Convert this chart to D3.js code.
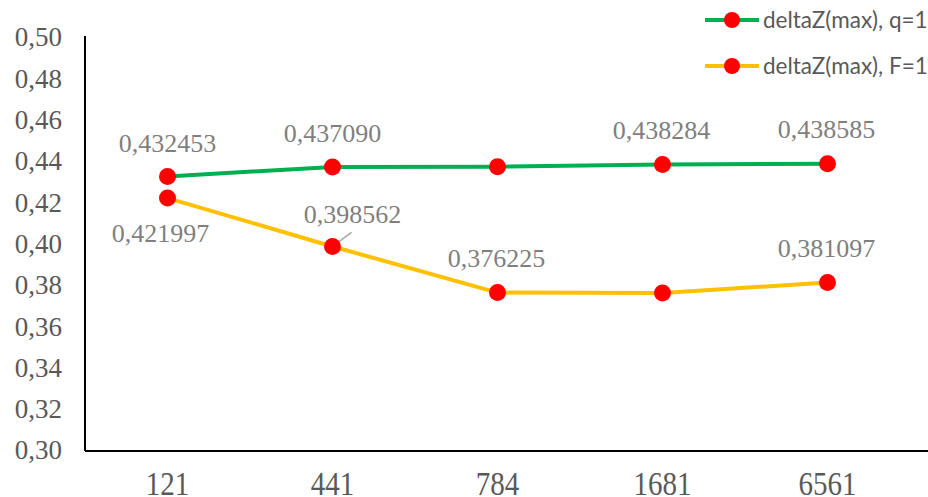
<!DOCTYPE html>
<html><head><meta charset="utf-8">
<script src="https://cdn.jsdelivr.net/npm/d3@7"></script>
<style>body{margin:0;background:#fff}svg{display:block}</style>
</head><body><svg id="c" width="928" height="497"></svg>
<script>
const categories = ["121","441","784","1681","6561"];
const seriesNames = ["deltaZ(max), q=1","deltaZ(max), F=1"];
const qValues = [0.432453, 0.437090, 0.437200, 0.438284, 0.438585];
const fValues = [0.421997, 0.398562, 0.376225, 0.376000, 0.381097];
const qLabels = ["0,432453","0,437090",null,"0,438284","0,438585"];
const fLabels = ["0,421997","0,398562","0,376225",null,"0,381097"];
const yTicks = [0.30,0.32,0.34,0.36,0.38,0.40,0.42,0.44,0.46,0.48,0.50];

// label layout offsets (dx, dy from the point)
const qLabelOffsets = [[0,-33],[0,-33],null,[-1,-34],[-1,-34]];
const fLabelOffsets = [[-7,35],[20,-32],[-1,-34],null,[-1,-34]];

const SERIF = '"Liberation Serif"';
const SANS = '"Lato"';

const svg = d3.select("#c");
const x = d3.scaleBand().domain(categories).range([85,910]);
const y = d3.scaleLinear().domain([0.30,0.50]).range([450,37]);
const cx = d => x(d) + x.bandwidth()/2;

// y axis
const yAxis = svg.append("g").attr("transform","translate(85,0)")
  .call(d3.axisLeft(y).tickValues(yTicks).tickSize(0).tickPadding(23)
    .tickFormat(d => d3.format(".2f")(d).replace(".",",")));
yAxis.attr("font-family",null).attr("font-size",null);
yAxis.select(".domain").attr("stroke","#000").attr("stroke-width",2).attr("d","M0,36V451");
yAxis.selectAll("text").style("font-family",SERIF).style("font-size","27px")
  .attr("fill","#595959").attr("dy","0.33em");

// x axis
const xAxis = svg.append("g").attr("transform","translate(0,451)")
  .call(d3.axisBottom(x).tickSize(0).tickPadding(0));
xAxis.attr("font-family",null).attr("font-size",null);
xAxis.select(".domain").attr("stroke","#000").attr("stroke-width",2).attr("d","M85,0H928");
xAxis.selectAll(".tick text").style("font-family",SERIF).style("font-size","33px")
  .attr("fill","#595959").attr("dy",0).attr("y",0)
  .attr("transform","translate(0,44) scale(0.88,1)");

const line = d3.line().x((d,i)=>cx(categories[i])).y(d=>y(d));
const series = [
  {vals:qValues, color:"#00B050", labels:qLabels, offs:qLabelOffsets},
  {vals:fValues, color:"#FFC000", labels:fLabels, offs:fLabelOffsets}
];
series.forEach(s=>{
  svg.append("path").datum(s.vals).attr("d",line).attr("fill","none")
    .attr("stroke",s.color).attr("stroke-width",4).attr("stroke-linejoin","round");
});
// leader line for 0,398562
{
  const px = cx(categories[1]), py = y(fValues[1]);
  svg.append("line").attr("x1",px).attr("y1",py).attr("x2",px+19).attr("y2",py-14)
    .attr("stroke","#a6a6a6").attr("stroke-width",1.5);
}
series.forEach(s=>{
  svg.append("g").selectAll("circle").data(s.vals).join("circle")
    .attr("cx",(d,i)=>cx(categories[i])).attr("cy",d=>y(d)).attr("r",8.5).attr("fill","#FF0000");
});
series.forEach(s=>{
  svg.append("g").selectAll("text").data(s.vals.map((v,i)=>({v,i})).filter(d=>s.labels[d.i]))
    .join("text")
    .attr("x",d=>cx(categories[d.i])+s.offs[d.i][0])
    .attr("y",d=>y(d.v)+s.offs[d.i][1])
    .attr("text-anchor","middle").attr("dy","0.33em")
    .style("font-family",SERIF).style("font-size","26px")
    .attr("fill","#7f7f7f").text(d=>s.labels[d.i]);
});

// legend
const leg = svg.append("g");
series.forEach((s,i)=>{
  const ly = 20 + i*46;
  leg.append("line").attr("x1",705).attr("x2",759).attr("y1",ly).attr("y2",ly)
    .attr("stroke",s.color).attr("stroke-width",4);
  leg.append("circle").attr("cx",732).attr("cy",ly).attr("r",8).attr("fill","#FF0000");
  leg.append("text").attr("x",763).attr("y",ly).attr("dy","0.35em")
    .style("font-family",SANS).style("font-size","22.5px")
    .attr("fill","#595959").text(seriesNames[i]);
});
</script></body></html>
